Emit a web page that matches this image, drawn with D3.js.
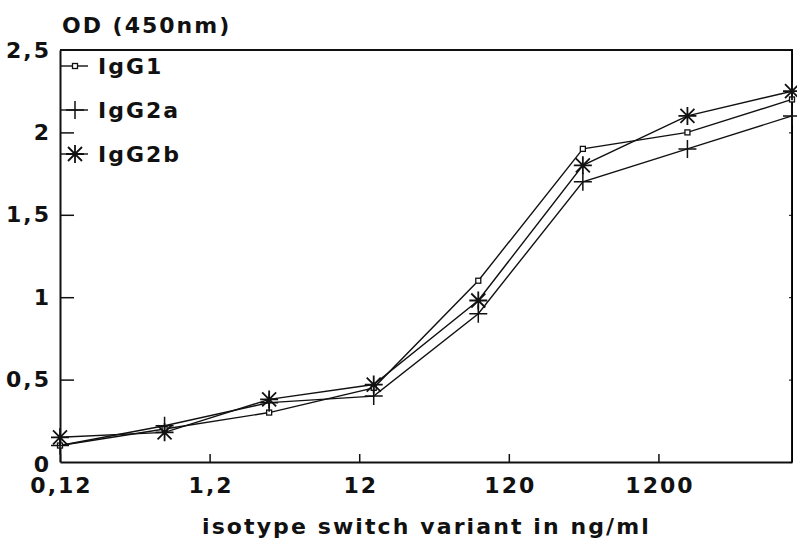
<!DOCTYPE html>
<html>
<head>
<meta charset="utf-8">
<script src="https://cdn.jsdelivr.net/npm/d3@7"></script>
<style>
  body { margin: 0; background: #fff; }
  svg text { font-family: "DejaVu Sans", Arial, sans-serif; font-weight: bold; fill: #111; }
</style>
</head>
<body>
<svg width="797" height="542"></svg>
<script>
// data
const concentrations = [0.12, 0.6, 3, 15, 75, 375, 1875, 9375];
const igg1  = [0.10, 0.20, 0.30, 0.45, 1.10, 1.90, 2.00, 2.20];
const igg2a = [0.10, 0.22, 0.36, 0.40, 0.90, 1.70, 1.90, 2.10];
const igg2b = [0.15, 0.18, 0.38, 0.47, 0.98, 1.80, 2.10, 2.25];
const seriesNames = ["IgG1", "IgG2a", "IgG2b"];
const xTicks = [0.12, 1.2, 12, 120, 1200];
const xTickLabels = ["0,12", "1,2", "12", "120", "1200"];
const yTicks = [0, 0.5, 1, 1.5, 2, 2.5];
const yTickLabels = ["0", "0,5", "1", "1,5", "2", "2,5"];

var svg = d3.select("svg");
var plotLeft = 60, plotRight = 792, plotTop = 50, plotBottom = 462;

var x = d3.scaleLog().domain([0.12, 9375]).range([plotLeft, plotRight]);
var y = d3.scaleLinear().domain([0, 2.5]).range([plotBottom, plotTop]);

// frame
svg.append("path")
  .attr("d", `M${plotLeft},${plotTop}H${plotRight}V${plotBottom}`)
  .attr("fill", "none").attr("stroke", "#111").attr("stroke-width", 2);

// axes
var xAxis = d3.axisBottom(x)
  .tickValues(xTicks)
  .tickFormat((d, i) => xTickLabels[i])
  .tickSizeInner(-8).tickSizeOuter(0).tickPadding(15);
var gx = svg.append("g").attr("transform", `translate(0,${plotBottom})`).call(xAxis);

var yAxis = d3.axisLeft(y)
  .tickValues(yTicks)
  .tickFormat((d, i) => yTickLabels[i])
  .tickSizeInner(-14).tickSizeOuter(0).tickPadding(9);
var gy = svg.append("g").attr("transform", `translate(${plotLeft},0)`).call(yAxis);

var yRight = d3.axisRight(y).tickValues(yTicks).tickFormat("")
  .tickSizeInner(-3).tickSizeOuter(0);
svg.append("g").attr("transform", `translate(${plotRight},0)`).call(yRight);

[gx, gy].forEach(g => {
  g.select(".domain").attr("stroke", "#111").attr("stroke-width", 2);
  g.selectAll(".tick line").attr("stroke", "#111").attr("stroke-width", 1.5);
  g.selectAll("text").attr("font-size", 22).attr("letter-spacing", 2)
    .attr("font-family", null).attr("fill", "#111");
});
gy.selectAll(".tick").filter(d => d === 0 || d === 2.5).select("line").remove();
gy.selectAll(".tick").filter(d => d === 0).select("text").attr("dy", "0.45em");
gx.selectAll(".tick text").attr("dx", 1);

// titles
svg.append("text").attr("x", 62).attr("y", 33)
  .attr("font-size", 22).attr("letter-spacing", 2).text("OD (450nm)");
svg.append("text").attr("x", 202).attr("y", 534)
  .attr("font-size", 22).attr("letter-spacing", 2.1).text("isotype switch variant in ng/ml");

// markers
function drawMarker(g, kind) {
  if (kind === 0) {
    g.append("rect").attr("x", -2.5).attr("y", -2.5).attr("width", 5).attr("height", 5)
      .attr("fill", "#fff").attr("stroke", "#111").attr("stroke-width", 1.3);
  } else if (kind === 1) {
    g.append("path").attr("d", "M-9,0H9M0,-9V9")
      .attr("stroke", "#111").attr("stroke-width", 1.5);
  } else {
    g.append("path").attr("d", "M-9,0H9M0,-9V9M-7,-7L7,7M-7,7L7,-7")
      .attr("stroke", "#111").attr("stroke-width", 1.8);
  }
}

var allSeries = [igg1, igg2a, igg2b];
var line = d3.line().x((d, i) => x(concentrations[i])).y(d => y(d));

allSeries.forEach((vals, k) => {
  svg.append("path").datum(vals).attr("d", line)
    .attr("fill", "none").attr("stroke", "#111").attr("stroke-width", 1.4);
});
allSeries.forEach((vals, k) => {
  svg.append("g").selectAll("g").data(vals).enter().append("g")
    .attr("transform", (d, i) => `translate(${x(concentrations[i])},${y(d)})`)
    .each(function() { drawMarker(d3.select(this), k); });
});

// legend
var legendY = [66, 110, 154];
seriesNames.forEach((name, k) => {
  var g = svg.append("g").attr("transform", `translate(0,${legendY[k]})`);
  g.append("line").attr("x1", 61).attr("x2", 88).attr("y1", 0).attr("y2", 0)
    .attr("stroke", "#111").attr("stroke-width", 1.4);
  var m = g.append("g").attr("transform", "translate(75,0)");
  drawMarker(m, k);
  g.append("text").attr("x", 98).attr("y", 8).attr("font-size", 22)
    .attr("letter-spacing", 2).text(name);
});
</script>
</body>
</html>
